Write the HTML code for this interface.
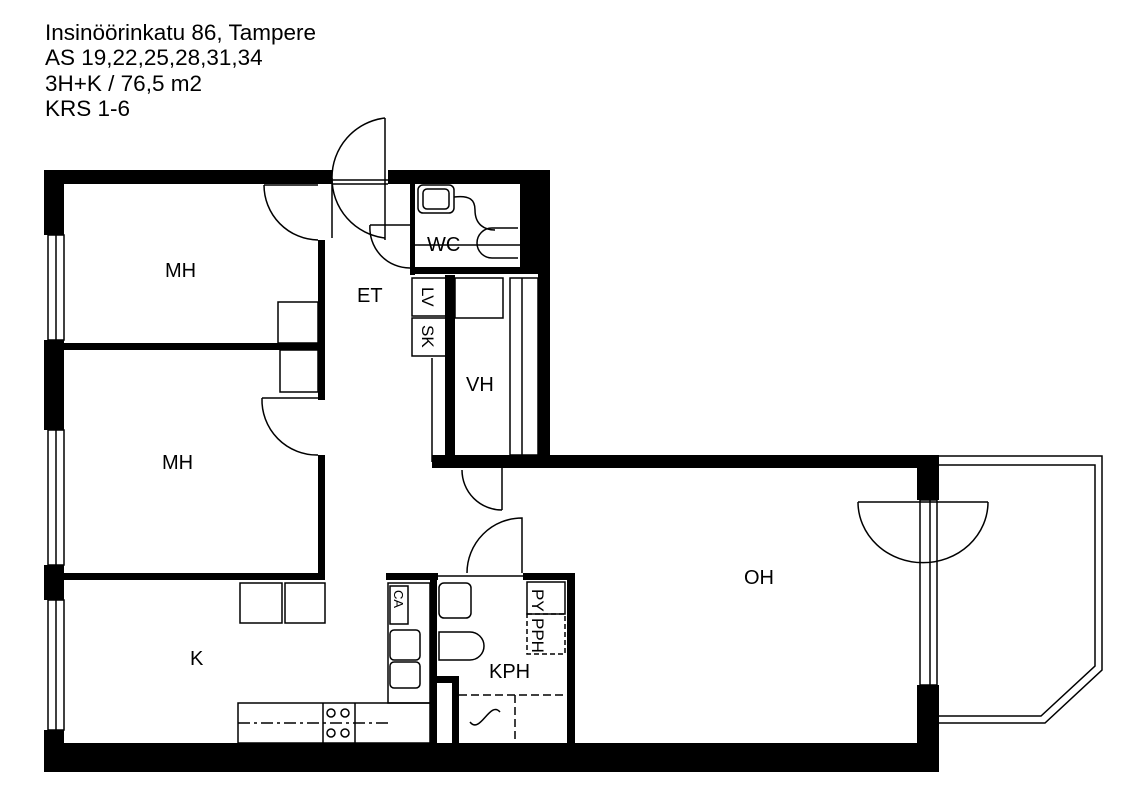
<!DOCTYPE html>
<html><head><meta charset="utf-8"><style>
body{margin:0;background:#fff;width:1139px;height:792px;overflow:hidden}
svg{display:block}
text{font-family:"Liberation Sans",sans-serif;fill:#000}
</style></head><body>
<svg width="1139" height="792" viewBox="0 0 1139 792">
<g font-size="22.5">
<text x="45" y="40">Insinöörinkatu 86, Tampere</text>
<text x="45" y="65">AS 19,22,25,28,31,34</text>
<text x="45" y="91">3H+K / 76,5 m2</text>
<text x="45" y="116">KRS 1-6</text>
</g>
<g fill="#000">
<rect x="44" y="170" width="288" height="14"/>
<rect x="388" y="170" width="162" height="14"/>
<rect x="520" y="170" width="30" height="100"/>
<rect x="538" y="170" width="12" height="290"/>
<rect x="535" y="455" width="404" height="13"/>
<rect x="917" y="455" width="22" height="45"/>
<rect x="917" y="685" width="22" height="87"/>
<rect x="44" y="743" width="895" height="29"/>
<rect x="44" y="170" width="20" height="65"/>
<rect x="44" y="340" width="20" height="90"/>
<rect x="44" y="565" width="20" height="35"/>
<rect x="44" y="730" width="20" height="42"/>
<rect x="318" y="240" width="7" height="160"/>
<rect x="318" y="455" width="7" height="125"/>
<rect x="64" y="343" width="254" height="7"/>
<rect x="64" y="573" width="261" height="7"/>
<rect x="410" y="183" width="5" height="92"/>
<rect x="410" y="267" width="130" height="7"/>
<rect x="445" y="275" width="10" height="185"/>
<rect x="432" y="455" width="106" height="13"/>
<rect x="386" y="573" width="52" height="7"/>
<rect x="523" y="573" width="52" height="7"/>
<rect x="430" y="573" width="7" height="172"/>
<rect x="567" y="573" width="8" height="172"/>
<rect x="437" y="676" width="22" height="7"/>
<rect x="452" y="676" width="7" height="69"/>
</g>
<g fill="none" stroke="#000" stroke-width="1.5">
<rect x="48" y="235" width="16" height="105"/><line x1="56" y1="235" x2="56" y2="340"/>
<rect x="48" y="430" width="16" height="135"/><line x1="56" y1="430" x2="56" y2="565"/>
<rect x="48" y="600" width="16" height="130"/><line x1="56" y1="600" x2="56" y2="730"/>
<rect x="920" y="500" width="17" height="185"/><line x1="930" y1="500" x2="930" y2="685"/>
<path d="M939 456 H1102 V670 L1045 723 H939"/>
<path d="M939 465 H1095 V666 L1041 716 H939"/>
<line x1="385" y1="118" x2="385" y2="240"/>
<path d="M385 118 A60 60 0 0 0 332 178 A60 60 0 0 0 385 238"/>
<line x1="332" y1="178" x2="332" y2="238"/>
<line x1="332" y1="180" x2="388" y2="180"/><line x1="332" y1="184" x2="388" y2="184"/>
<path d="M264 185 A55 55 0 0 0 318 240"/><line x1="264" y1="185" x2="318" y2="185"/>
<path d="M262 398 A55 55 0 0 0 318 455"/><line x1="262" y1="398" x2="318" y2="398"/>
<path d="M370 225 A40 40 0 0 0 410 268"/><line x1="370" y1="225" x2="410" y2="225"/>
<rect x="418" y="185" width="36" height="28" rx="5"/><rect x="423" y="189" width="26" height="20" rx="4"/>
<path d="M454 197 C470 195 475 200 475 210 C475 225 485 230 495 230"/>
<path d="M518 228 H492 A15 15 0 0 0 492 258 H518"/>
<line x1="415" y1="245" x2="520" y2="245"/>
<rect x="412" y="278" width="36" height="38"/><rect x="412" y="318" width="36" height="38"/>
<rect x="455" y="278" width="48" height="40"/>
<rect x="510" y="278" width="28" height="177"/><line x1="522" y1="278" x2="522" y2="455"/>
<line x1="432" y1="358" x2="432" y2="462"/>
<rect x="278" y="302" width="40" height="41"/><rect x="280" y="350" width="38" height="42"/>
<path d="M462 470 A40 40 0 0 0 502 510"/><line x1="502" y1="468" x2="502" y2="510"/>
<path d="M467 573 A55 55 0 0 1 522 518 V573"/>
<line x1="438" y1="576" x2="523" y2="576"/>
<path d="M858 502 A60 56 0 0 0 988 502"/><line x1="858" y1="502" x2="988" y2="502"/>
<rect x="240" y="583" width="42" height="40"/><rect x="285" y="583" width="40" height="40"/>
<rect x="238" y="703" width="192" height="40"/>
<rect x="388" y="583" width="42" height="120"/>
<rect x="390" y="586" width="18" height="38"/>
<rect x="390" y="630" width="30" height="30" rx="4"/><rect x="390" y="662" width="30" height="26" rx="4"/>
<line x1="238" y1="723" x2="390" y2="723" stroke-dasharray="12 4 3 4"/>
<circle cx="331" cy="713" r="4"/><circle cx="345" cy="713" r="4"/><circle cx="331" cy="733" r="4"/><circle cx="345" cy="733" r="4"/>
<line x1="323" y1="703" x2="323" y2="743"/><line x1="355" y1="703" x2="355" y2="743"/>
<rect x="439" y="583" width="32" height="35" rx="5"/>
<path d="M470 632 A14 14 0 0 1 470 660 H439 V632 Z"/>
<rect x="527" y="582" width="38" height="32"/>
<rect x="527" y="614" width="38" height="40" stroke-dasharray="5 3"/>
<line x1="459" y1="695" x2="567" y2="695" stroke-dasharray="8 4"/>
<line x1="515" y1="695" x2="515" y2="743" stroke-dasharray="8 4"/>
<path d="M470 722 C480 735 490 700 500 712"/>
</g>
<g font-size="20">
<text x="165" y="277">MH</text>
<text x="162" y="469">MH</text>
<text x="357" y="302">ET</text>
<text x="427" y="251">WC</text>
<text x="466" y="391">VH</text>
<text x="744" y="584">OH</text>
<text x="190" y="665">K</text>
<text x="489" y="678">KPH</text>
</g>
<g font-size="17">
<text transform="translate(422,287) rotate(90)">LV</text>
<text transform="translate(422,325) rotate(90)">SK</text>
<text transform="translate(532,589) rotate(90)">PY</text>
<text transform="translate(532,618) rotate(90)">PPH</text>
<text transform="translate(394,590) rotate(90)" font-size="13">CA</text>
</g>
</svg>
</body></html>
